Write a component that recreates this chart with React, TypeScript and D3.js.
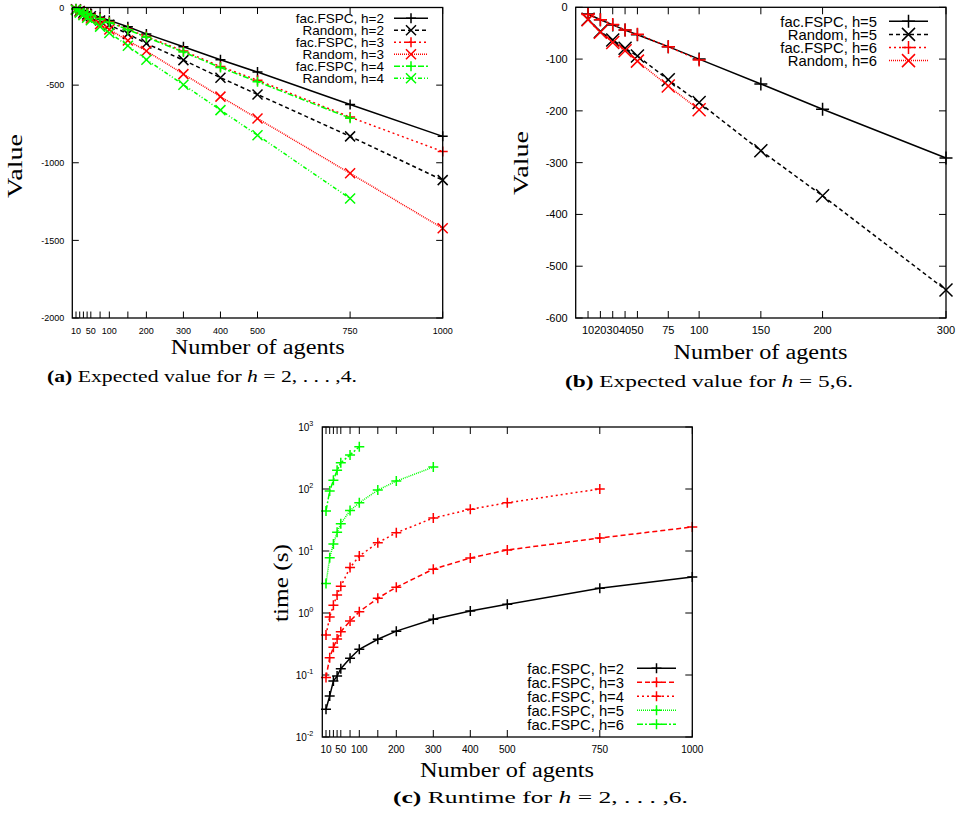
import React from 'react';
import * as d3 from 'd3';

// ---------- Data ----------
// Panel (a): expected value, h = 2..4
const agentsA = [10, 20, 30, 40, 50, 75, 100, 150, 200, 300, 400, 500, 750, 1000];
const fspcH2 = [-8, -17, -25, -33, -41, -62, -83, -124, -170, -253, -337, -416, -625, -830];
const randomH2 = [-11, -22, -34, -45, -56, -84, -112, -170, -232, -339, -452, -560, -830, -1112];
const fspcH3 = [-9, -19, -28, -37, -47, -70, -93, -140, -187, -280, -380, -468, -706, -928];
const randomH3 = [-14, -28, -43, -57, -71, -107, -142, -213, -280, -429, -574, -715, -1068, -1422];
const fspcH4 = [-10, -19, -29, -38, -48, -72, -96, -143, -191, -287, -387, -478, -713];
const randomH4 = [-16, -33, -49, -66, -82, -123, -164, -246, -336, -497, -661, -823, -1230];
const xTicksA = [10, 20, 30, 40, 50, 75, 100, 150, 200, 300, 400, 500, 750, 1000];
const xLabelsA = [10, 50, 100, 200, 300, 400, 500, 750, 1000];
const yTicksA = [-2000, -1500, -1000, -500, 0];

// Panel (b): expected value, h = 5,6
const agentsB = [10, 20, 30, 40, 50, 75, 100, 150, 200, 300];
const fspcH5 = [-13, -24, -34, -44, -53, -76, -100, -148, -197, -291];
const randomH5 = [-23, -47, -63, -79, -94, -140, -184, -277, -364, -546];
const fspcH6 = [-14, -24, -33, -44, -52, -76, -102];
const randomH6 = [-24, -48, -68, -84, -104, -152, -198];
const xTicksB = [10, 20, 30, 40, 50, 75, 100, 150, 200, 300];
const yTicksB = [-600, -500, -400, -300, -200, -100, 0];

// Panel (c): runtime (s), log scale
const agentsC = [10, 20, 30, 40, 50, 75, 100, 150, 200, 300, 400, 500, 750, 1000];
const timeH2 = [0.028, 0.046, 0.08, 0.096, 0.126, 0.186, 0.26, 0.377, 0.51, 0.79, 1.08, 1.38, 2.5, 3.8];
const timeH3 = [0.091, 0.19, 0.28, 0.38, 0.5, 0.74, 1.05, 1.73, 2.6, 5.1, 7.7, 10.4, 16.2, 24.4];
const timeH4 = [0.44, 0.86, 1.33, 1.95, 2.7, 5.4, 8.3, 13.6, 19.7, 34, 47, 60, 100];
const timeH5 = [3.0, 7.8, 13, 20, 27.5, 45, 60, 96, 134, 226];
const timeH6 = [44, 93, 138, 200, 265, 355, 480];
const xTicksC = [10, 20, 30, 40, 50, 75, 100, 150, 200, 300, 400, 500, 750, 1000];
const xLabelsC = [10, 50, 100, 200, 300, 400, 500, 750, 1000];
const yTicksC = [0.01, 0.1, 1, 10, 100, 1000];

const SANS = "'Liberation Sans', Arial, Helvetica, sans-serif";
const SERIF = "'Liberation Serif', 'Times New Roman', serif";
const BLACK = '#000000';
const RED = '#ff0000';
const GREEN = '#00ff00';

type Series = { label: string; xs: number[]; ys: number[]; color: string; dash: string; marker: 'plus' | 'cross' };

const seriesA: Series[] = [
  { label: 'fac.FSPC, h=2', xs: agentsA, ys: fspcH2, color: BLACK, dash: '', marker: 'plus' },
  { label: 'Random, h=2', xs: agentsA, ys: randomH2, color: BLACK, dash: '4,3', marker: 'cross' },
  { label: 'fac.FSPC, h=3', xs: agentsA, ys: fspcH3, color: RED, dash: '2,3', marker: 'plus' },
  { label: 'Random, h=3', xs: agentsA, ys: randomH3, color: RED, dash: '1,1', marker: 'cross' },
  { label: 'fac.FSPC, h=4', xs: agentsA, ys: fspcH4, color: GREEN, dash: '6,2,2,2', marker: 'plus' },
  { label: 'Random, h=4', xs: agentsA, ys: randomH4, color: GREEN, dash: '4,2,1,2,1,2', marker: 'cross' },
];

const seriesB: Series[] = [
  { label: 'fac.FSPC, h=5', xs: agentsB, ys: fspcH5, color: BLACK, dash: '', marker: 'plus' },
  { label: 'Random, h=5', xs: agentsB, ys: randomH5, color: BLACK, dash: '4,3', marker: 'cross' },
  { label: 'fac.FSPC, h=6', xs: agentsB, ys: fspcH6, color: RED, dash: '2,3', marker: 'plus' },
  { label: 'Random, h=6', xs: agentsB, ys: randomH6, color: RED, dash: '1,1', marker: 'cross' },
];

const seriesC: Series[] = [
  { label: 'fac.FSPC, h=2', xs: agentsC, ys: timeH2, color: BLACK, dash: '', marker: 'plus' },
  { label: 'fac.FSPC, h=3', xs: agentsC, ys: timeH3, color: RED, dash: '5,3', marker: 'plus' },
  { label: 'fac.FSPC, h=4', xs: agentsC, ys: timeH4, color: RED, dash: '2,3', marker: 'plus' },
  { label: 'fac.FSPC, h=5', xs: agentsC, ys: timeH5, color: GREEN, dash: '1,1', marker: 'plus' },
  { label: 'fac.FSPC, h=6', xs: agentsC, ys: timeH6, color: GREEN, dash: '6,2,2,2', marker: 'plus' },
];

function Marker({ type, x, y, s, color }: { type: string; x: number; y: number; s: number; color: string }) {
  const d = type === 'plus'
    ? `M${x - s},${y}H${x + s}M${x},${y - s}V${y + s}`
    : `M${x - s},${y - s}L${x + s},${y + s}M${x - s},${y + s}L${x + s},${y - s}`;
  return <path d={d} stroke={color} strokeWidth={1.5} fill="none" />;
}

type PanelProps = {
  x: any; y: any; box: { x0: number; x1: number; y0: number; y1: number };
  series: Series[]; xTicks: number[]; xLabels: number[]; yTicks: number[];
  tickFont: number; tickLen: number; ms: number; logY?: boolean;
  legend: { right: number; top: number; step: number; font: number; s0: number; s1: number };
};

function Panel(p: PanelProps) {
  const { x, y, box, series, xTicks, xLabels, yTicks, tickFont, tickLen, ms, legend } = p;
  const line = (s: Series) => d3.line<number>()
    .x((_, i) => x(s.xs[i]))
    .y((v) => y(v))(s.ys) as string;
  return (
    <g>
      {xTicks.map((t) => (
        <g key={'xt' + t}>
          <line x1={x(t)} x2={x(t)} y1={box.y1} y2={box.y1 - tickLen} stroke="#000" strokeWidth={1} />
          <line x1={x(t)} x2={x(t)} y1={box.y0} y2={box.y0 + tickLen} stroke="#000" strokeWidth={1} />
        </g>
      ))}
      {yTicks.map((t) => (
        <g key={'yt' + t}>
          <line x1={box.x0} x2={box.x0 + tickLen} y1={y(t)} y2={y(t)} stroke="#000" strokeWidth={1} />
          <line x1={box.x1} x2={box.x1 - tickLen} y1={y(t)} y2={y(t)} stroke="#000" strokeWidth={1} />
        </g>
      ))}
      {xLabels.map((t) => (
        <text key={'xl' + t} x={x(t)} y={box.y1 + 13 + tickFont * 0.3} fontSize={tickFont} fontFamily={SANS} textAnchor="middle">{t}</text>
      ))}
      {yTicks.map((t) => (
        p.logY ? (
          <text key={'yl' + t} x={box.x0 - 9} y={y(t) + 4} fontSize={tickFont} fontFamily={SANS} textAnchor="end">
            10<tspan dy={-5} fontSize={tickFont * 0.72}>{Math.round(Math.log10(t))}</tspan>
          </text>
        ) : (
          <text key={'yl' + t} x={box.x0 - 8} y={y(t) + tickFont * 0.35} fontSize={tickFont} fontFamily={SANS} textAnchor="end">{t}</text>
        )
      ))}
      {series.map((s, si) => (
        <g key={'s' + si}>
          <path d={line(s)} fill="none" stroke={s.color} strokeWidth={1.5} strokeDasharray={s.dash || undefined} />
          {s.ys.map((v, i) => (
            <Marker key={i} type={s.marker} x={x(s.xs[i])} y={y(v)} s={ms} color={s.color} />
          ))}
        </g>
      ))}
      {series.map((s, si) => {
        const cy = legend.top + si * legend.step;
        return (
          <g key={'lg' + si}>
            <text x={legend.right} y={cy + legend.font * 0.36} fontSize={legend.font} fontFamily={SANS} textAnchor="end">{s.label}</text>
            <line x1={legend.s0} x2={legend.s1} y1={cy} y2={cy} stroke={s.color} strokeWidth={1.5} strokeDasharray={s.dash || undefined} />
            <Marker type={s.marker} x={(legend.s0 + legend.s1) / 2} y={cy} s={ms} color={s.color} />
          </g>
        );
      })}
      <rect x={box.x0} y={box.y0} width={box.x1 - box.x0} height={box.y1 - box.y0} fill="none" stroke="#000" strokeWidth={1.3} />
    </g>
  );
}

export default function App() {
  const boxA = { x0: 72.3, x1: 442.7, y0: 7.5, y1: 318 };
  const xA = d3.scaleLinear().domain([0, 1000]).range([boxA.x0, boxA.x1]);
  const yA = d3.scaleLinear().domain([-2000, 0]).range([boxA.y1, boxA.y0]);

  const boxB = { x0: 575.7, x1: 946, y0: 7.3, y1: 318 };
  const xB = d3.scaleLinear().domain([0, 300]).range([boxB.x0, boxB.x1]);
  const yB = d3.scaleLinear().domain([-600, 0]).range([boxB.y1, boxB.y0]);

  const boxC = { x0: 322.3, x1: 692.3, y0: 427, y1: 737 };
  const xC = d3.scaleLinear().domain([0, 1000]).range([boxC.x0, boxC.x1]);
  const yC = d3.scaleLog().domain([0.01, 1000]).range([boxC.y1, boxC.y0]);

  return (
    <svg width={956} height={813} style={{ position: 'absolute', left: 0, top: 0, background: '#fff' }}>
      <rect x={0} y={0} width={956} height={813} fill="#fff" />
      <Panel x={xA} y={yA} box={boxA} series={seriesA} xTicks={xTicksA} xLabels={xLabelsA} yTicks={yTicksA}
        tickFont={9} tickLen={6.5} ms={5}
        legend={{ right: 384, top: 18.3, step: 12, font: 13.5, s0: 394, s1: 428 }} />
      <Panel x={xB} y={yB} box={boxB} series={seriesB} xTicks={xTicksB} xLabels={xTicksB} yTicks={yTicksB}
        tickFont={11} tickLen={7} ms={6.5}
        legend={{ right: 877, top: 21.3, step: 13.1, font: 14.8, s0: 889, s1: 928 }} />
      <Panel x={xC} y={yC} box={boxC} series={seriesC} xTicks={xTicksC} xLabels={xLabelsC} yTicks={yTicksC}
        tickFont={10} tickLen={7} ms={5} logY
        legend={{ right: 624, top: 668.3, step: 14, font: 14.8, s0: 637, s1: 676 }} />

      <text x={257.8} y={354} fontSize={20} fontFamily={SERIF} textAnchor="middle" textLength={174} lengthAdjust="spacingAndGlyphs">Number of agents</text>
      <text x={760.5} y={359} fontSize={20} fontFamily={SERIF} textAnchor="middle" textLength={174} lengthAdjust="spacingAndGlyphs">Number of agents</text>
      <text x={507} y={777} fontSize={20} fontFamily={SERIF} textAnchor="middle" textLength={174} lengthAdjust="spacingAndGlyphs">Number of agents</text>
      <text transform="translate(22,166) rotate(-90)" fontSize={21} fontFamily={SERIF} textAnchor="middle" textLength={64} lengthAdjust="spacingAndGlyphs">Value</text>
      <text transform="translate(528,163) rotate(-90)" fontSize={21} fontFamily={SERIF} textAnchor="middle" textLength={64} lengthAdjust="spacingAndGlyphs">Value</text>
      <text transform="translate(288,583) rotate(-90)" fontSize={21} fontFamily={SERIF} textAnchor="middle" textLength={78} lengthAdjust="spacingAndGlyphs">time (s)</text>

      <text x={202} y={382} fontSize={17} fontFamily={SERIF} textAnchor="middle" textLength={310} lengthAdjust="spacingAndGlyphs">
        <tspan fontWeight="bold">(a)</tspan> Expected value for <tspan fontStyle="italic">h</tspan> = 2, . . . ,4.
      </text>
      <text x={709} y={387} fontSize={17} fontFamily={SERIF} textAnchor="middle" textLength={288} lengthAdjust="spacingAndGlyphs">
        <tspan fontWeight="bold">(b)</tspan> Expected value for <tspan fontStyle="italic">h</tspan> = 5,6.
      </text>
      <text x={540.5} y={803} fontSize={17} fontFamily={SERIF} textAnchor="middle" textLength={295} lengthAdjust="spacingAndGlyphs">
        <tspan fontWeight="bold">(c)</tspan> Runtime for <tspan fontStyle="italic">h</tspan> = 2, . . . ,6.
      </text>
    </svg>
  );
}
